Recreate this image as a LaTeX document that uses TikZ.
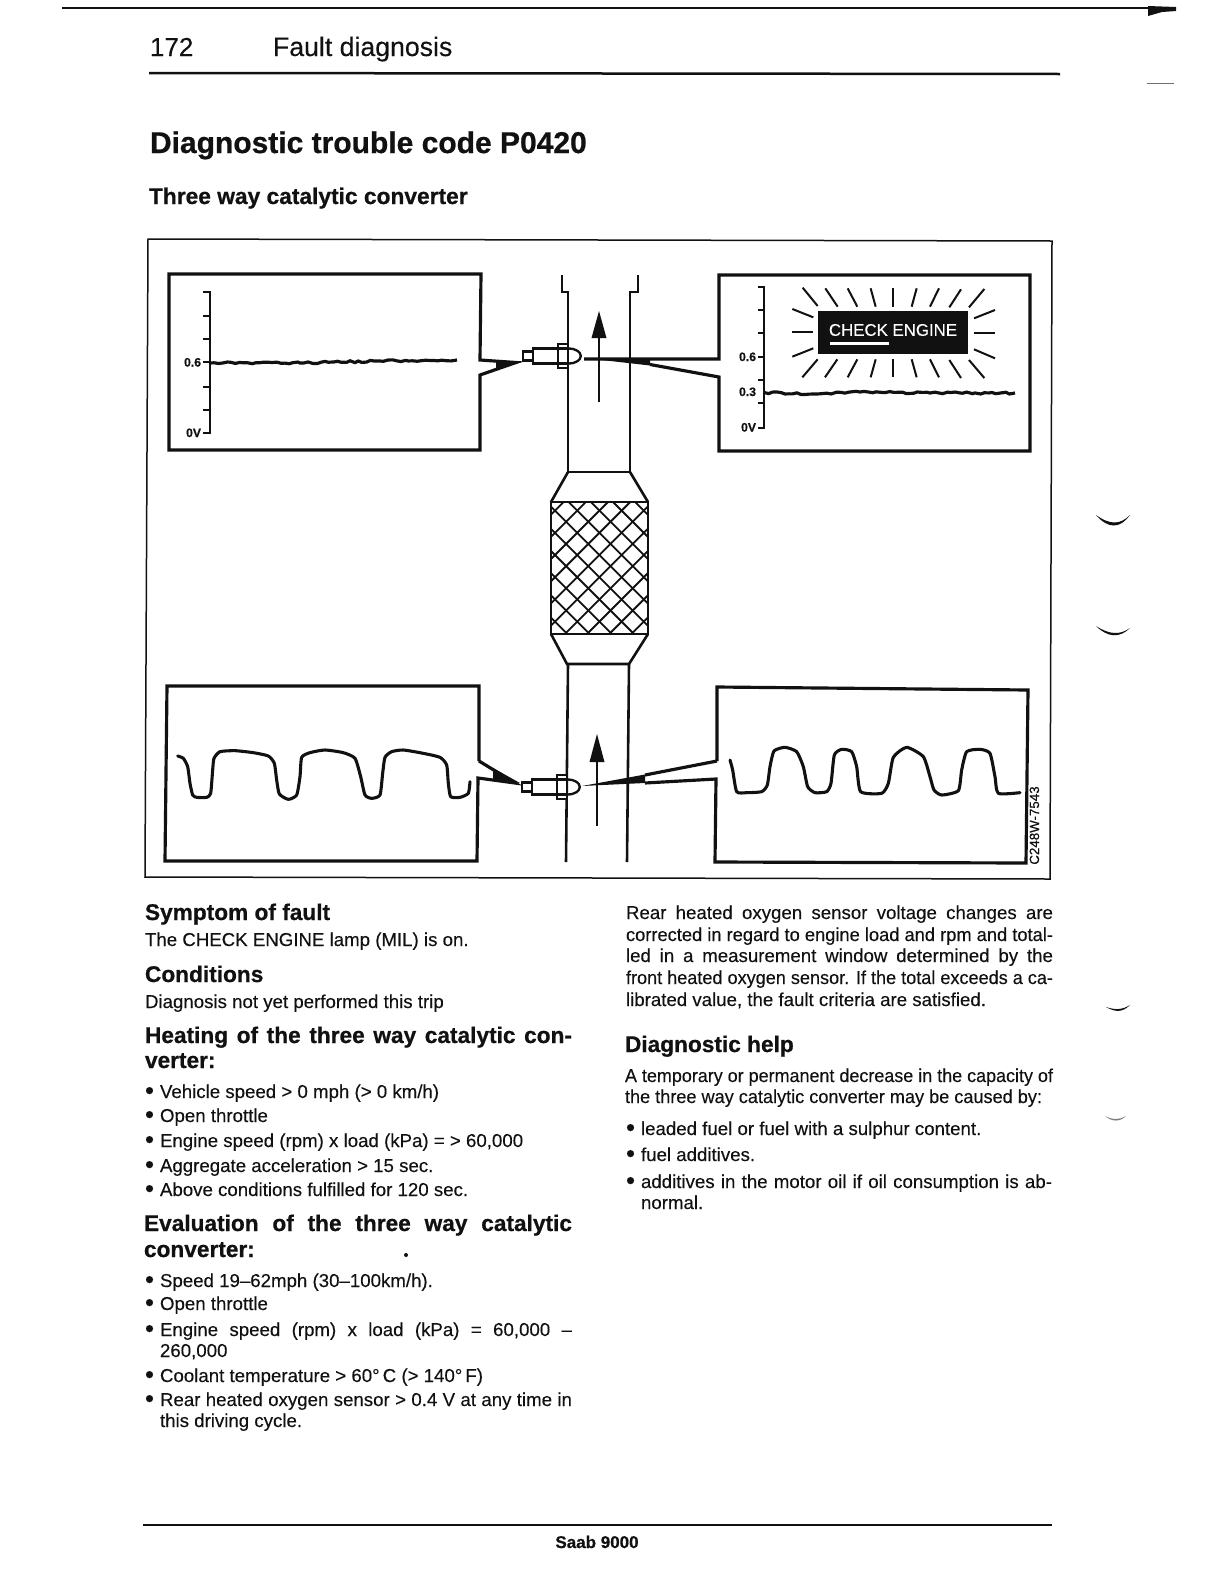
\documentclass[tikz,border=0pt]{standalone}
\usepackage{fontspec}
\usepackage{graphicx}
\setmainfont{Liberation Sans}[UprightFeatures={FakeBold=0.25},BoldFeatures={FakeBold=0.7}]
\usetikzlibrary{decorations.pathmorphing}
\definecolor{ink}{HTML}{111111}
\newdimen\flw
\newcommand\fl[2]{\flw=#1pt \flw=0.6\flw \setbox0\hbox{#2}\ifdim\wd0>\flw \resizebox{\flw}{\height}{\box0}\else\hbox to \flw{#2}\fi}
\newcommand\bodyfont{\fontsize{11.2pt}{13pt}\selectfont}
\newcommand\headfont{\fontsize{13.6pt}{16pt}\selectfont\bfseries}
\newcommand\dotmark{\raisebox{-0.7pt}{\fontsize{15.5pt}{15.5pt}\selectfont •}}
\newcommand\sensorshape[2]{%
  \begin{scope}[shift={(#1,#2)}]
    \draw[sensorline] (45,7.5) .. controls (62,7.5) and (62,-7.5) .. (45,-7.5);
    \draw[sensorline,fill=white] (0,-4.5) rectangle (10,4.5);
    \draw[sensorline,fill=white] (10,-7.5) rectangle (35,7.5);
    \draw[sensorline,fill=white] (35,-12) rectangle (45,12);
    \draw[sensorline] (35,-7.5) -- (45,-7.5) (35,7.5) -- (45,7.5);
  \end{scope}}
\tikzset{
  x=0.6pt,y=-0.6pt,
  txt/.style={anchor=base west,inner sep=0pt,outer sep=0pt,text=ink},
  bodytxt/.style={txt,font=\bodyfont},
  headtxt/.style={txt,font=\headfont},
  scaletxt/.style={anchor=base east,inner sep=0pt,outer sep=0pt,text=ink,font=\fontsize{7.3pt}{9pt}\selectfont\bfseries},
  boxline/.style={draw=ink,line width=1.9pt,miter limit=10},
  pipeline/.style={draw=ink,line width=1.55pt},
  sensorline/.style={draw=ink,line width=1.4pt},
  axisline/.style={draw=ink,line width=1.0pt},
  ray/.style={draw=ink,line width=1.2pt},
  trace/.style={draw=ink,line width=1.85pt,line join=round,line cap=round},
  flat/.style={draw=ink,line width=1.9pt,decorate,decoration={random steps,segment length=2.5pt,amplitude=0.6pt}},
  scan/.style={fill=ink,draw=none},
}
\begin{document}
\begin{tikzpicture}
\useasboundingbox (0,0) rectangle (1224,1584);
\pgfmathsetseed{7}
% page rules
\draw[ink,line width=1.7pt] (62,8) -- (1150,8);
\fill[ink] (1148,6) -- (1176,7) -- (1176,11) -- (1162,12) -- (1148,16) -- cycle;
\draw[ink!60,line width=0.6pt] (1147,83) -- (1174,83);
\draw[ink,line width=1.5pt] (149,73) -- (1060,74);
\draw[ink,line width=1.5pt] (143,1525) -- (1052,1525);
% header text
\node[txt,font=\fontsize{15.6pt}{18pt}\selectfont] (pageno) at (150,56) {172};
\node[txt,font=\fontsize{16pt}{18pt}\selectfont] (chapter) at (273,56) {Fault diagnosis};
\node[txt,font=\fontsize{18pt}{22pt}\selectfont\bfseries] (title) at (150,153) {Diagnostic trouble code P0420};
\node[txt,font=\fontsize{13.65pt}{16pt}\selectfont\bfseries] (subtitle) at (149,204) {Three way catalytic converter};
% figure frame
\draw[ink,line width=0.9pt] (148,239) -- (1052,241) -- (1050,879) -- (145,877) -- cycle;
% pipes
\draw[pipeline] (562,275) -- (562,292) -- (568,292) -- (568,472) -- (630,472) -- (630,292) -- (638,292) -- (638,275);
\draw[pipeline] (568,472) -- (551,502) (630,472) -- (648,502);
\draw[pipeline] (551,634) -- (567,664) -- (629,664) -- (648,634);
\draw[pipeline] (568,664) -- (566,862) (629,664) -- (627,862);
% catalyst mesh
\begin{scope}
  \clip (551,502) rectangle (648,634);
  \foreach \k in {-8,...,5} {
    \draw[ink,line width=1.1pt] ({466.6+\k*22.2},400) -- ++(300,300);
  }
  \foreach \k in {-4,...,9} {
    \draw[ink,line width=1.1pt] ({710+\k*22.2},400) -- ++(-300,300);
  }
\end{scope}
\draw[ink,line width=1.7pt] (551,502) rectangle (648,634);
% flow arrows
\draw[ink,line width=1.5pt] (599,402) -- (599,336);
\fill[ink] (599,311) -- (606.5,338) -- (591.5,338) -- cycle;
\draw[ink,line width=1.5pt] (597,826) -- (597,760);
\fill[ink] (597,734) -- (604.5,762) -- (589.5,762) -- cycle;
% sensor leader wedges
\fill[ink] (584,358) -- (650,358) -- (650,365.5) -- cycle;
\fill[ink] (582,786) -- (645,774.5) -- (645,783) -- cycle;
\fill[ink] (496,361) -- (522,362) -- (496,369.5) -- cycle;
\fill[ink] (493,768) -- (520,783) -- (493,780) -- cycle;
% trace boxes with pointers
\draw[boxline] (169,274) -- (481,274) -- (480,360) -- (516,362.5) -- (480,375) -- (480,450) -- (169,450) -- cycle;
\draw[boxline] (584,359) -- (719,359) -- (719,275) -- (1030,275) -- (1030,451) -- (719,451) -- (719,377) -- (650,364.5);
\draw[boxline] (479,761) -- (479,686) -- (167,686) -- (165,861) -- (477,861) -- (478,778) -- (515,783) -- (479,761);
\draw[boxline] (717,761) -- (717,687) -- (1028,690) -- (1026,863) -- (715,862) -- (716,779) -- (645,783) (717,761) -- (645,775);
% sensors
\sensorshape{523}{356}
\sensorshape{522}{787}
% axis, front sensor
\draw[axisline] (203,292) -- (210,292) -- (210,433) -- (203,433);
\foreach \yy in {316,339,362,387,410} \draw[axisline] (203,\yy) -- (210,\yy);
\node[scaletxt] (lfsix) at (201,366.5) {0.6};
\node[scaletxt] (lfzero) at (201,437) {0V};
\draw[flat] (210,363) -- (300,363) -- (380,361) -- (457,360);
% axis, rear sensor
\draw[axisline] (758,287) -- (764,287) -- (764,428) -- (758,428);
\foreach \yy in {310,333,357,380,403} \draw[axisline] (758,\yy) -- (764,\yy);
\node[scaletxt] (rfsix) at (756,361) {0.6};
\node[scaletxt] (rfthree) at (756,396) {0.3};
\node[scaletxt] (rfzero) at (756,431.5) {0V};
\draw[flat] (764,392.5) -- (815,394) -- (860,392) -- (930,393) -- (1015,393);
% lamp
\node[fill=ink,minimum width=90pt,minimum height=25.8pt,inner sep=0pt] (lamp) at (893,332.5) {};
\node[inner sep=0pt,text=white,font=\fontsize{10.1pt}{12pt}\selectfont] (lamptxt) at (893,330) {CHECK ENGINE};
\draw[white,line width=1.4pt] (830,343.5) -- (889,343.5);
\begin{scope}[shift={(540,260)},x=0.2pt,y=-0.2pt]
  \foreach \a/\b/\c/\d in {788/83/833/138,856/85/893/140,923/85/952/140,992/85/1007/140,1060/85/1060/140,1130/85/1115/140,1197/85/1170/140,1263/88/1228/142,1333/87/1287/142,
     757/147/820/172,757/215/820/215,757/290/820/265,1365/150/1302/175,1302/218/1365/218,1302/268/1365/295,
     787/352/833/298,855/352/892/298,923/352/952/298,992/352/1007/298,1060/352/1060/298,1130/352/1115/298,1197/352/1170/298,1263/354/1228/300,1333/354/1287/300}
    \draw[ray] (\a,\b) -- (\c,\d);
\end{scope}
% waveforms
\begin{scope}[shift={(140,670)},x=0.2pt,y=-0.2pt]
  \draw[trace] plot[smooth,tension=0.35] coordinates {(113,258)(130,265)(143,290)(150,340)(158,375)(170,382)(200,382)(212,370)(218,300)(222,265)(240,245)(285,242)(340,248)(385,258)(403,280)(410,330)(418,372)(445,388)(470,375)(480,320)(485,262)(510,248)(555,240)(610,248)(645,265)(662,320)(675,375)(695,385)(720,375)(728,310)(735,262)(755,245)(790,240)(850,250)(900,262)(920,285)(925,340)(932,380)(960,382)(985,370)(990,335)};
\end{scope}
\begin{scope}[shift={(540,670)},x=0.2pt,y=-0.2pt]
  \draw[trace] plot[smooth,tension=0.35] coordinates {(570,270)(578,300)(590,365)(620,368)(665,365)(682,345)(690,290)(702,243)(735,232)(770,245)(790,290)(803,350)(825,368)(860,365)(873,340)(883,255)(905,238)(935,245)(950,290)(962,365)(1025,370)(1045,340)(1060,262)(1100,232)(1150,260)(1170,320)(1182,360)(1205,375)(1255,362)(1265,300)(1280,245)(1320,238)(1350,250)(1365,320)(1375,370)(1440,368)};
\end{scope}
\node[anchor=base west,inner sep=0pt,rotate=90,text=ink,font=\fontsize{8pt}{9pt}\selectfont] (figcode) at (1039,865) {C248W-7543};
% left column
\node[headtxt] (h1) at (145,920) {Symptom of fault};
\node[bodytxt] (b1) at (145,946) {The CHECK ENGINE lamp (MIL) is on.};
\node[headtxt] (h2) at (145,982) {Conditions};
\node[bodytxt] (b2) at (145,1008) {Diagnosis not yet performed this trip};
\node[headtxt] (h3a) at (145,1043) {\fl{427}{Heating of the three way catalytic con-}};
\node[headtxt] (h3b) at (145,1068) {verter:};
\node[bodytxt] (bv) at (145,1098) {\dotmark}; \node[bodytxt] (lv) at (160,1098) {Vehicle speed > 0 mph (> 0 km/h)};
\node[bodytxt] (bo) at (145,1122) {\dotmark}; \node[bodytxt] (lo) at (160,1122) {Open throttle};
\node[bodytxt] (be) at (145,1147) {\dotmark}; \node[bodytxt] (le) at (160,1147) {Engine speed (rpm) x load (kPa) = > 60,000};
\node[bodytxt] (ba) at (145,1172) {\dotmark}; \node[bodytxt] (la) at (160,1172) {Aggregate acceleration > 15 sec.};
\node[bodytxt] (bf) at (145,1196) {\dotmark}; \node[bodytxt] (lf) at (160,1196) {Above conditions fulfilled for 120 sec.};
\node[headtxt] (h4a) at (144,1231) {\fl{428}{Evaluation of the three way catalytic}};
\node[headtxt] (h4b) at (144,1257) {converter:};
\node[bodytxt] (bs) at (145,1287) {\dotmark}; \node[bodytxt] (ls) at (160,1287) {Speed 19–62mph (30–100km/h).};
\node[bodytxt] (bt) at (145,1310) {\dotmark}; \node[bodytxt] (lt) at (160,1310) {Open throttle};
\node[bodytxt] (bg) at (145,1336) {\dotmark}; \node[bodytxt] (lg) at (160,1336) {\fl{412}{Engine speed (rpm) x load (kPa) = 60,000 –}};
\node[bodytxt] (lg2) at (160,1357) {260,000};
\node[bodytxt] (bc) at (145,1382) {\dotmark}; \node[bodytxt] (lc) at (160,1382) {Coolant temperature > 60°\,C (> 140°\,F)};
\node[bodytxt] (br) at (145,1406) {\dotmark}; \node[bodytxt] (lr) at (160,1406) {\fl{412}{Rear heated oxygen sensor > 0.4 V at any time in}};
\node[bodytxt] (lr2) at (160,1427) {this driving cycle.};
% right column
\node[bodytxt] (r1) at (626,919) {\fl{427}{Rear heated oxygen sensor voltage changes are}};
\node[bodytxt] (r2) at (626,941) {\fl{427}{corrected in regard to engine load and rpm and total-}};
\node[bodytxt] (r3) at (626,962) {\fl{427}{led in a measurement window determined by the}};
\node[bodytxt] (r4) at (626,984) {\fl{427}{front heated oxygen sensor. If the total exceeds a ca-}};
\node[bodytxt] (r5) at (626,1006) {\fl{360}{librated value, the fault criteria are satisfied.}};
\node[headtxt] (h5) at (625,1052) {Diagnostic help};
\node[bodytxt] (r6) at (625,1082) {\fl{428}{A temporary or permanent decrease in the capacity of}};
\node[bodytxt] (r7) at (625,1103) {\fl{417}{the three way catalytic converter may be caused by:}};
\node[bodytxt] (bl) at (626,1135) {\dotmark}; \node[bodytxt] (r8) at (641,1135) {leaded fuel or fuel with a sulphur content.};
\node[bodytxt] (bfa) at (626,1161) {\dotmark}; \node[bodytxt] (r9) at (641,1161) {fuel additives.};
\node[bodytxt] (bad) at (626,1188) {\dotmark}; \node[bodytxt] (r10) at (641,1188) {\fl{411}{additives in the motor oil if oil consumption is ab-}};
\node[bodytxt] (r11) at (641,1209) {normal.};
% footer
\node[anchor=base,inner sep=0pt,text=ink,font=\fontsize{10.2pt}{12pt}\selectfont\bfseries] (foot) at (597,1548) {Saab 9000};
% scan marks in the margin
\fill[scan] (1096,515) .. controls (1110,525) and (1120,525) .. (1130,515) .. controls (1120,529) and (1108,529) .. (1096,515);
\fill[scan] (1096,626) .. controls (1110,635) and (1120,635) .. (1130,628) .. controls (1120,638) and (1108,638) .. (1096,626);
\fill[scan] (1106,1007) .. controls (1115,1010) and (1122,1010) .. (1130,1005) .. controls (1122,1013) and (1115,1012) .. (1106,1007);
\fill[ink!55] (1105,1116) .. controls (1112,1120) and (1120,1120) .. (1126,1116) .. controls (1120,1122) and (1112,1122) .. (1105,1116);
\fill[ink] (406,1255) circle[radius=2];
\end{tikzpicture}
\end{document}
